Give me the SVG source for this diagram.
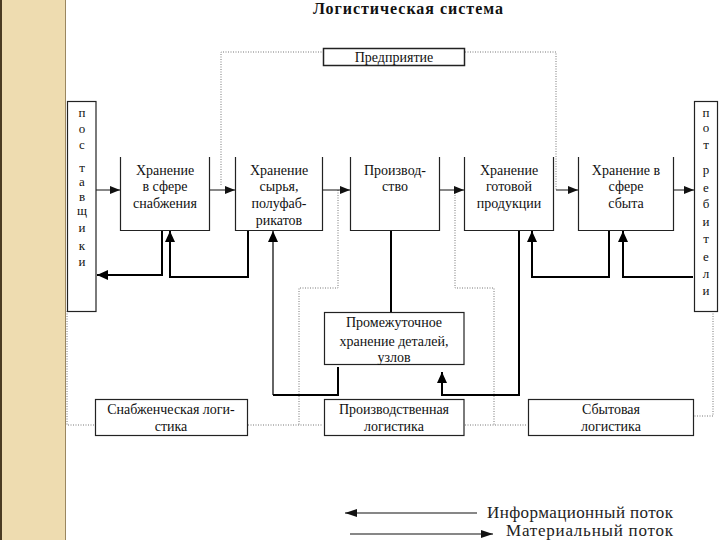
<svg xmlns="http://www.w3.org/2000/svg" width="720" height="540" viewBox="0 0 720 540">
<style>
.t{font-family:"Liberation Serif","Times New Roman",serif;font-size:14px;fill:#111;text-anchor:middle}
.l{font-family:"Liberation Serif","Times New Roman",serif;font-size:13px;fill:#111;text-anchor:middle}
.box{fill:#fff;stroke:#222;stroke-width:1.2}
.ubox{fill:none;stroke:#222;stroke-width:1.2}
.dot{fill:none;stroke:#777;stroke-width:1;stroke-dasharray:1 1.5}
.mat{fill:none;stroke:#111;stroke-width:1}
.inf{fill:none;stroke:#000;stroke-width:2}
.leg{font-family:"Liberation Serif","Times New Roman",serif;font-size:17px;fill:#222}
</style>
<defs>
<marker id="am" markerUnits="userSpaceOnUse" markerWidth="10" markerHeight="8" refX="10" refY="4" orient="auto"><path d="M0,0 L10,4 L0,8 z" fill="#111"/></marker>
<marker id="ai" markerUnits="userSpaceOnUse" markerWidth="11" markerHeight="10" refX="11" refY="5" orient="auto"><path d="M0,0 L11,5 L0,10 z" fill="#000"/></marker>
<marker id="al" markerUnits="userSpaceOnUse" markerWidth="12" markerHeight="8" refX="12" refY="4" orient="auto"><path d="M0,0 L12,4 L0,8 z" fill="#111"/></marker>
</defs>
<rect width="720" height="540" fill="#fff"/>
<g id="band">
<rect x="0" y="0" width="66" height="540" fill="#EEDCB0"/>
<rect x="0" y="0" width="2" height="540" fill="#4a3b22"/>
<line x1="65.5" y1="0" x2="65.5" y2="540" stroke="#9a8660" stroke-width="1"/>
</g>
<text x="408" y="14" font-family="Liberation Serif,serif" font-size="16" font-weight="bold" text-anchor="middle" textLength="190" fill="#111">Логистическая система</text>
<g id="connectors">
<path class="dot" d="M221,185 V52 H323"/>
<path class="dot" d="M465,52 H556 V190"/>
<path class="dot" d="M338,190 V288 H299 V425"/>
<path class="dot" d="M248,425 H323"/>
<path class="dot" d="M455,190 V288 H494 V425"/>
<path class="dot" d="M465,425 H527"/>
<path class="dot" d="M67,311 V425 H95"/>
<path class="dot" d="M713,311 V416 H693"/>
<path class="mat" d="M96,190 H120" marker-end="url(#am)"/>
<path class="mat" d="M209,190 H235" marker-end="url(#am)"/>
<path class="mat" d="M322,190 H350" marker-end="url(#am)"/>
<path class="mat" d="M440,190 H464" marker-end="url(#am)"/>
<path class="mat" d="M556,190 H578" marker-end="url(#am)"/>
<path class="mat" d="M673,190 H694" marker-end="url(#am)"/>
<path class="inf" d="M162,230 V275 H97" marker-end="url(#ai)"/>
<path class="inf" d="M248,230 V277 H170 V231" marker-end="url(#ai)"/>
<path class="mat" style="stroke-width:1.3" d="M273,395 V231" marker-end="url(#ai)"/>
<path class="inf" d="M338,367 V395 H273"/>
<path class="inf" d="M391,230 V312"/>
<path class="inf" d="M519,230 V395 H442 V372" marker-end="url(#ai)"/>
<path class="inf" d="M609,230 V277 H532 V231" marker-end="url(#ai)"/>
<path class="inf" d="M693,277 H623 V231" marker-end="url(#ai)"/>
</g>
<g id="predpriyatie">
<rect class="box" x="323.5" y="48.5" width="141" height="17" style="stroke-width:1.5"/>
<text class="t" x="394" y="62">Предприятие</text>
</g>
<g id="postavshiki">
<rect class="box" x="67.5" y="101.5" width="28.5" height="210"/>
<text class="l" x="82" y="117">п</text>
<text class="l" x="82" y="133">о</text>
<text class="l" x="82" y="149">с</text>
<text class="l" x="82" y="172">т</text>
<text class="l" x="82" y="186">а</text>
<text class="l" x="82" y="201">в</text>
<text class="l" x="82" y="215">щ</text>
<text class="l" x="82" y="232">и</text>
<text class="l" x="82" y="250">к</text>
<text class="l" x="82" y="266">и</text>
</g>
<g id="potrebiteli">
<rect class="box" x="694.5" y="101.5" width="23" height="210"/>
<text class="l" x="706" y="117">п</text>
<text class="l" x="706" y="132">о</text>
<text class="l" x="706" y="149">т</text>
<text class="l" x="706" y="174">р</text>
<text class="l" x="706" y="192">е</text>
<text class="l" x="706" y="208">б</text>
<text class="l" x="706" y="226">и</text>
<text class="l" x="706" y="243">т</text>
<text class="l" x="706" y="261">е</text>
<text class="l" x="706" y="278">л</text>
<text class="l" x="706" y="295">и</text>
</g>
<g id="box1">
<path class="ubox" d="M120.5,157 V230.5 H209.5 V157"/>
<text class="t" x="165" y="175">Хранение</text>
<text class="t" x="165" y="191">в сфере</text>
<text class="t" x="165" y="208">снабжения</text>
</g>
<g id="box2">
<path class="ubox" d="M235.5,157 V230.5 H322.5 V157"/>
<text class="t" x="279" y="175">Хранение</text>
<text class="t" x="279" y="191">сырья,</text>
<text class="t" x="279" y="208">полуфаб-</text>
<text class="t" x="279" y="225">рикатов</text>
</g>
<g id="box3">
<path class="ubox" d="M350.5,157 V230.5 H439.5 V157"/>
<text class="t" x="395" y="175">Производ-</text>
<text class="t" x="395" y="191">ство</text>
</g>
<g id="box4">
<path class="ubox" d="M464.5,157 V230.5 H553.5 V157"/>
<text class="t" x="509" y="175">Хранение</text>
<text class="t" x="509" y="191">готовой</text>
<text class="t" x="509" y="208">продукции</text>
</g>
<g id="box5">
<path class="ubox" d="M578.5,157 V230.5 H673.5 V157"/>
<text class="t" x="626" y="175">Хранение в</text>
<text class="t" x="626" y="191">сфере</text>
<text class="t" x="626" y="208">сбыта</text>
</g>
<g id="promezh">
<rect class="box" x="324.5" y="312.5" width="139.5" height="52"/>
<text class="t" x="394" y="327">Промежуточное</text>
<text class="t" x="394" y="346">хранение деталей,</text>
<text class="t" x="394" y="362">узлов</text>
</g>
<g id="snab">
<rect class="box" x="95.5" y="399.5" width="152" height="36"/>
<text class="t" x="171" y="414">Снабженческая логи-</text>
<text class="t" x="171" y="431">стика</text>
</g>
<g id="proizv">
<rect class="box" x="324.5" y="399.5" width="139.5" height="36"/>
<text class="t" x="394" y="414">Производственная</text>
<text class="t" x="394" y="431">логистика</text>
</g>
<g id="sbyt">
<rect class="box" x="528.5" y="399.5" width="165" height="36"/>
<text class="t" x="611" y="414">Сбытовая</text>
<text class="t" x="611" y="431">логистика</text>
</g>
<g id="legend">
<path class="mat" style="stroke-width:1.2" d="M477,513 H345" marker-end="url(#al)"/>
<path class="mat" style="stroke-width:1.2" d="M350,534 H493" marker-end="url(#al)"/>
<text class="leg" x="487" y="518" textLength="186">Информационный поток</text>
<text class="leg" x="506" y="536" textLength="167">Материальный поток</text>
</g>
</svg>
